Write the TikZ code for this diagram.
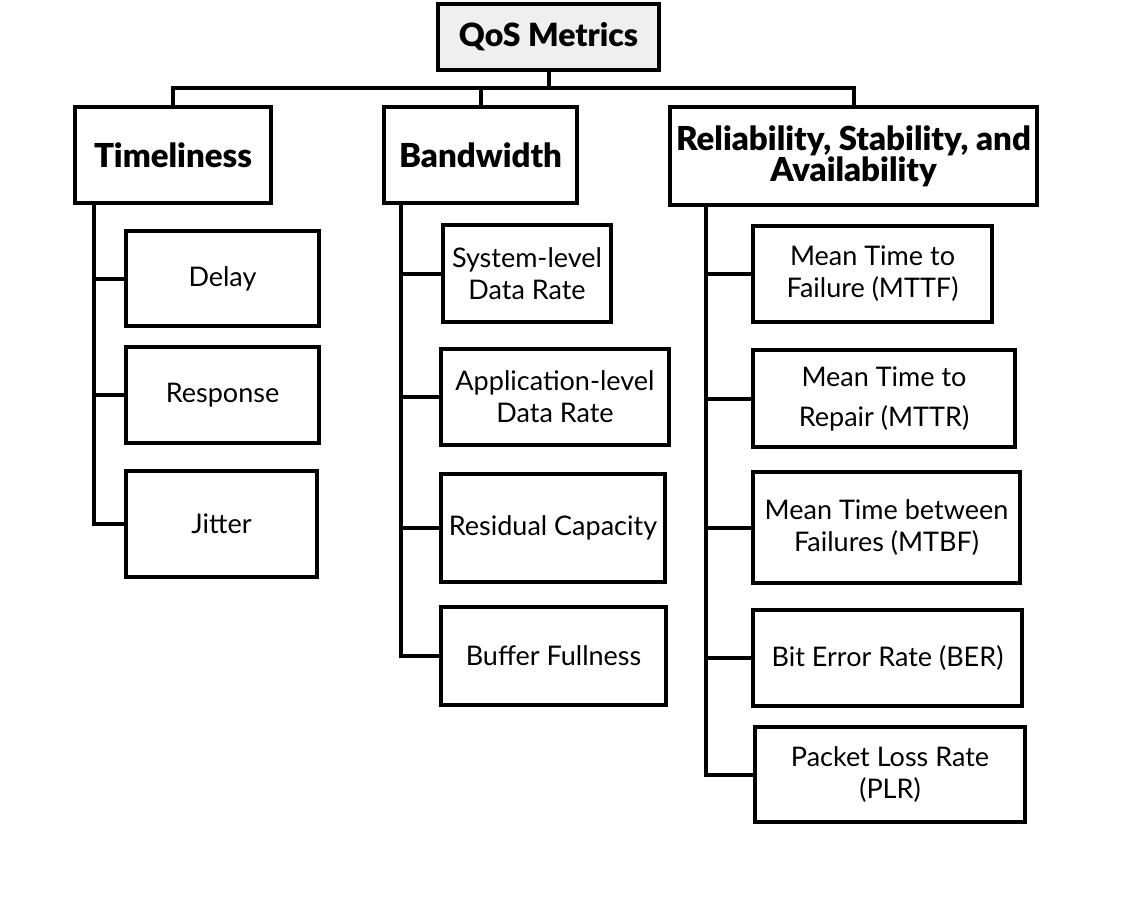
\documentclass[tikz,border=0pt]{standalone}
\usepackage{fontspec}
\setmainfont{Lato}[BoldFont={Lato Black}]
\usetikzlibrary{positioning, calc}
\definecolor{rootfill}{HTML}{EFEFEF}
\tikzset{
  leaf/.style={draw=black, fill=white, line width=4pt, align=center, inner sep=0pt,
    font=\fontsize{27}{32}\selectfont},
  head/.style={leaf, font=\fontsize{33}{31}\selectfont\bfseries},
  rootbox/.style={head, fill=rootfill, font=\fontsize{32}{31}\selectfont\bfseries},
  size/.style 2 args={minimum width=#1pt, minimum height=#2pt},
  link/.style={draw=black, line width=4pt}
}

\begin{document}
\begin{tikzpicture}[x=1pt, y=-1pt]
\useasboundingbox (0,0) rectangle (1142,899);
% top level
\node[rootbox, size={221}{66}] (root) at (548.5,37) {QoS Metrics};
\node[head, size={196}{96}] (tim) at (173,155) {Timeliness};
\node[head, size={193}{96}] (bw) at (480.5,155) {Bandwidth};
\node[head, size={367}{98}] (rel) at (853.5,156) {Reliability, Stability, and\\Availability};
\coordinate (bus) at (548.5,88);
\draw[link] (root.south) -- (root.south |- bus);
\draw[link] (tim.north) -- (tim.north |- bus) -- (rel.north |- bus) -- (rel.north);
\draw[link] (bw.north) -- (bw.north |- bus);
% timeliness
\node[leaf, size={193}{95}] (delay) at (222.5,278.5) {Delay};
\node[leaf, size={193}{96}] (resp) at (222.5,395) {Response};
\node[leaf, size={191}{106}] (jit) at (221.5,524) {Jitter};
\foreach \c in {delay,resp,jit}
  \draw[link] ([xshift=21pt]tim.south west) |- (\c.west);
% bandwidth
\node[leaf, size={168}{97}] (sys) at (527,273.5) {System-level\\Data Rate};
\node[leaf, size={228}{96}] (app) at (555,397) {Application-level\\Data Rate};
\node[leaf, size={224}{108}] (res) at (553,528) {Residual Capacity};
\node[leaf, size={225}{98}] (buf) at (553.5,656) {Buffer Fullness};
\foreach \c in {sys,app,res,buf}
  \draw[link] ([xshift=19pt]bw.south west) |- (\c.west);
% reliability
\node[leaf, size={239}{96}] (mttf) at (872.5,274) {Mean Time to\\Failure (MTTF)};
\node[leaf, size={262}{97}, font=\fontsize{27}{40}\selectfont] (mttr) at (884,398.5) {Mean Time to\\Repair (MTTR)};
\node[leaf, size={267}{111}] (mtbf) at (886.5,527.5) {Mean Time between\\Failures (MTBF)};
\node[leaf, size={269}{96}] (ber) at (887.5,658) {Bit Error Rate (BER)};
\node[leaf, size={270}{95}] (plr) at (890,774.5) {Packet Loss Rate\\(PLR)};
\foreach \c in {mttf,mttr,mtbf,ber,plr}
  \draw[link] ([xshift=38pt]rel.south west) |- (\c.west);
\end{tikzpicture}
\end{document}
